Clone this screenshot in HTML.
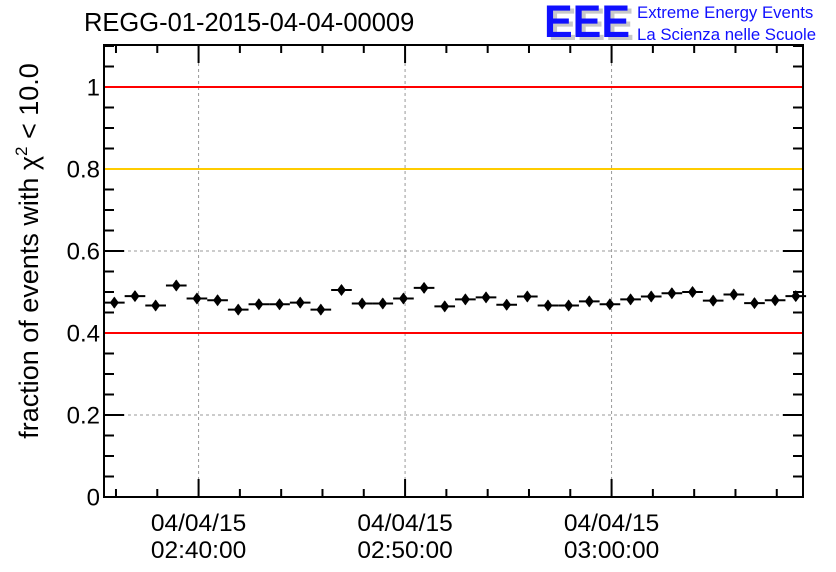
<!DOCTYPE html>
<html><head><meta charset="utf-8"><style>
body{margin:0;background:#fff}
svg{display:block;font-family:"Liberation Sans",sans-serif}
</style></head><body>
<svg id="chart" width="836" height="572">
<text x="84" y="31" font-size="25.5">REGG-01-2015-04-04-00009</text>
<g>
<text x="548" y="40" font-size="45" font-weight="bold" fill="#c8c8c8" textLength="86" lengthAdjust="spacingAndGlyphs">EEE</text>
<text x="544" y="37" font-size="45" font-weight="bold" fill="#1010ff" textLength="86" lengthAdjust="spacingAndGlyphs">EEE</text>
<text x="637" y="18" font-size="16.8" fill="#1010ff">Extreme Energy Events</text>
<text x="637" y="40" font-size="16.8" fill="#1010ff">La Scienza nelle Scuole</text>
</g>
<text transform="translate(38,251) rotate(-90)" text-anchor="middle" font-size="27">fraction of events with χ<tspan dy="-11" font-size="17">2</tspan><tspan dy="11"> &lt; 10.0</tspan></text>
<g id="grid"></g><g id="lines"></g><g id="marks"></g><g id="axes"></g>
</svg>
<script>
const yTicks=[0,0.2,0.4,0.6,0.8,1];
const yTickLabels=["0","0.2","0.4","0.6","0.8","1"];
const xTicksMin=[40,50,60];
const xTickLabels=[["04/04/15","02:40:00"],["04/04/15","02:50:00"],["04/04/15","03:00:00"]];
const binStart=35.42;
const fractions=[0.474,0.490,0.467,0.516,0.484,0.480,0.457,0.470,0.470,0.474,0.457,0.505,0.472,0.472,0.484,0.510,0.465,0.482,0.487,0.469,0.489,0.467,0.467,0.477,0.470,0.482,0.489,0.497,0.500,0.479,0.494,0.473,0.480,0.490];
const errors=[0.012,0.012,0.012,0.012,0.012,0.012,0.012,0.012,0.012,0.012,0.012,0.012,0.012,0.012,0.012,0.012,0.012,0.012,0.012,0.012,0.012,0.012,0.012,0.012,0.012,0.012,0.012,0.012,0.012,0.012,0.012,0.012,0.012,0.012];
const refLines=[1,0.8,0.4];
const refColors=["#ff0000","#ffcc00","#ff0000"];
const L=104,R=803,T=45,B=497,xMin=35.42,xMax=69.27;
const X=t=>L+(t-xMin)/(xMax-xMin)*(R-L);
const Y=v=>B-v*410;
const NS="http://www.w3.org/2000/svg";
function mk(tag,attrs,parent,txt){const e=document.createElementNS(NS,tag);for(const k in attrs)e.setAttribute(k,attrs[k]);if(txt!==undefined)e.textContent=txt;document.getElementById(parent).appendChild(e);return e;}
xTicksMin.forEach(t=>{const g=mk('line',{x1:X(t),x2:X(t),y1:T,y2:B,stroke:'#999','stroke-dasharray':'3,3'},'grid');

});
[0.2,0.6].forEach(v=>{const g=mk('line',{x1:L,x2:R,y1:Y(v),y2:Y(v),stroke:'#999','stroke-dasharray':'3,3'},'grid');

});
// axes ticks first (under ref lines)
for(let v=0;v<=1.1001;v+=0.05){const maj=Math.abs(v/0.2-Math.round(v/0.2))<1e-6,len=maj?20:10;
mk('line',{x1:L,x2:L+len,y1:Y(v),y2:Y(v),stroke:'#000','stroke-width':2},'grid');
mk('line',{x1:R,x2:R-len,y1:Y(v),y2:Y(v),stroke:'#000','stroke-width':2},'grid');}
refLines.forEach((v,i)=>{const l=mk('line',{x1:L,x2:R,y1:Y(v),y2:Y(v),stroke:refColors[i],'stroke-width':2},'lines');

});
fractions.forEach((v,i)=>{const t0=binStart+i,t1=t0+1,cx=X(t0+0.5),cy=Y(v);
const g=mk('g',{},'marks');


const e=errors[i];
[['line',{x1:X(t0),x2:X(t1),y1:cy,y2:cy,stroke:'#000','stroke-width':2}],
 ['line',{x1:cx,x2:cx,y1:Y(v-e),y2:Y(v+e),stroke:'#000','stroke-width':2}],
 ['path',{d:`M${cx} ${cy-6}L${cx+4.5} ${cy}L${cx} ${cy+6}L${cx-4.5} ${cy}Z`,fill:'#000'}]].forEach(([tg,a])=>{const c=document.createElementNS(NS,tg);for(const k in a)c.setAttribute(k,a[k]);g.appendChild(c);});});
const fr=mk('rect',{x:L,y:T,width:R-L,height:B-T,fill:'none',stroke:'#000','stroke-width':2},'axes');


yTicks.forEach((v,i)=>{const t=mk('text',{x:100,y:Y(v)+8.5,'text-anchor':'end','font-size':24},'axes',yTickLabels[i]);

});
for(let t=36;t<=69;t+=2){const maj=t%10===0,len=maj?18:8;
mk('line',{x1:X(t),x2:X(t),y1:B,y2:B-len,stroke:'#000','stroke-width':2},'axes');
mk('line',{x1:X(t),x2:X(t),y1:T,y2:T+len,stroke:'#000','stroke-width':2},'axes');}
xTicksMin.forEach((t,i)=>{xTickLabels[i].forEach((s,j)=>{const e=mk('text',{x:X(t),y:531+j*27,'text-anchor':'middle','font-size':24.5},'axes',s);

});});
</script>
</body></html>
